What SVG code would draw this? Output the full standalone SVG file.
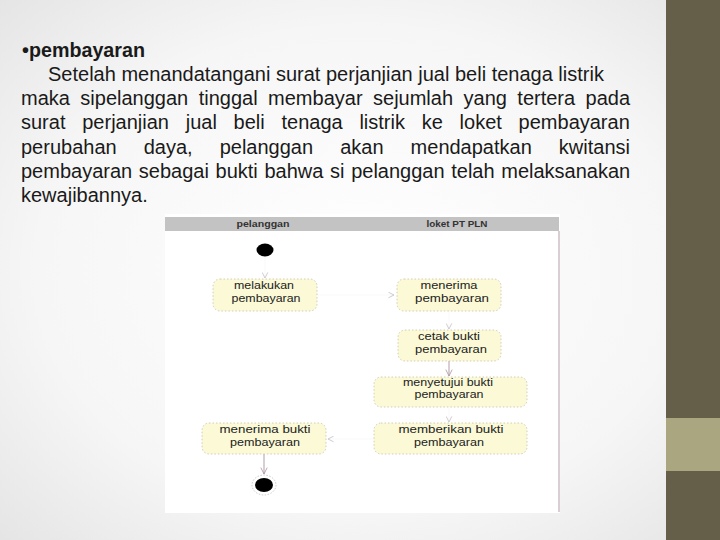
<svg xmlns="http://www.w3.org/2000/svg" width="720" height="540" viewBox="0 0 720 540">
<defs>
<radialGradient id="bg" cx="0.5" cy="0.5" r="0.75">
<stop offset="0" stop-color="#ffffff"/>
<stop offset="0.6" stop-color="#f6f6f6"/>
<stop offset="1" stop-color="#e2e2e2"/>
</radialGradient>
<marker id="ah" viewBox="0 0 10 10" refX="9" refY="5" markerWidth="7" markerHeight="7" orient="auto" markerUnits="userSpaceOnUse">
<path d="M1,1 L9,5 L1,9" fill="none" stroke="#bdb4bb" stroke-width="1"/>
</marker>
<marker id="ahd" viewBox="0 0 10 10" refX="9" refY="5" markerWidth="8" markerHeight="8" orient="auto" markerUnits="userSpaceOnUse">
<path d="M1,1 L9,5 L1,9" fill="none" stroke="#a8929f" stroke-width="1"/>
</marker>
</defs>
<style>
.body{font-family:"Liberation Sans",Arial,sans-serif;font-size:20px;fill:#1a1a1a}
.node rect{fill:#fbf9d6;stroke:#c9c2aa;stroke-width:0.8;stroke-dasharray:1.5 2}
.node text{font-family:"Liberation Sans",Arial,sans-serif;font-size:10px;fill:#222;text-anchor:middle}
.lane{font-family:"Liberation Sans",Arial,sans-serif;font-size:8.5px;font-weight:bold;fill:#333;text-anchor:middle}
.faint{stroke:#f9f8f9;stroke-width:0.8;fill:none}
.solid{stroke:#a8929f;stroke-width:0.9;fill:none}
</style>
<rect x="0" y="0" width="720" height="540" fill="url(#bg)"/>
<rect x="666" y="0" width="54" height="540" fill="#655e48"/>
<rect x="666" y="418" width="54" height="53" fill="#a9a680"/>

<g id="text">
<text class="body" x="22" y="57" font-weight="bold" textLength="123" lengthAdjust="spacingAndGlyphs">•pembayaran</text>
<text class="body" x="48" y="81">Setelah menandatangani surat perjanjian jual beli tenaga listrik</text>
<text class="body" x="21" y="105" style="word-spacing:4.9px">maka sipelanggan tinggal membayar sejumlah yang tertera pada</text>
<text class="body" x="21" y="129" style="word-spacing:11.2px">surat perjanjian jual beli tenaga listrik ke loket pembayaran</text>
<text class="body" x="21" y="154" style="word-spacing:21.5px">perubahan daya, pelanggan akan mendapatkan kwitansi</text>
<text class="body" x="21" y="178" style="word-spacing:1.1px">pembayaran sebagai bukti bahwa si pelanggan telah melaksanakan</text>
<text class="body" x="21" y="202">kewajibannya.</text>
</g>

<g id="diagram-frame">
<rect x="165" y="214" width="395" height="299" fill="#ffffff"/>
<rect x="165" y="217" width="394" height="14" fill="#c3c3c3"/>
<text class="lane" x="263" y="227" textLength="53" lengthAdjust="spacingAndGlyphs">pelanggan</text>
<text class="lane" x="457" y="227" textLength="61" lengthAdjust="spacingAndGlyphs">loket PT PLN</text>
<line x1="559" y1="231" x2="559" y2="512" stroke="#b59dab" stroke-width="1"/>
</g>

<g id="connectors">
<path class="faint" d="M265,257 L265,278" marker-end="url(#ah)"/>
<path class="faint" d="M317,295 L394,295" marker-end="url(#ah)"/>
<path class="faint" d="M449,311 L449,329" marker-end="url(#ah)"/>
<path class="solid" d="M449,361 L449,376" marker-end="url(#ahd)"/>
<path class="faint" d="M449,407 L449,422" marker-end="url(#ah)"/>
<path class="faint" d="M374,439 L328,439" marker-end="url(#ah)"/>
<path class="solid" d="M264,454 L264,474" marker-end="url(#ahd)"/>
</g>

<g id="start"><ellipse cx="265" cy="250" rx="8.5" ry="6.5" fill="#000"/></g>

<g id="melakukan" class="node">
<rect x="213" y="279" width="104" height="32" rx="7"/>
<text x="264" y="289" textLength="60" lengthAdjust="spacingAndGlyphs">melakukan</text>
<text x="266" y="302" textLength="69" lengthAdjust="spacingAndGlyphs">pembayaran</text>
</g>
<g id="menerima" class="node">
<rect x="397" y="279" width="104" height="32" rx="7"/>
<text x="449" y="289" textLength="57" lengthAdjust="spacingAndGlyphs">menerima</text>
<text x="452" y="302" textLength="74" lengthAdjust="spacingAndGlyphs">pembayaran</text>
</g>
<g id="cetak" class="node">
<rect x="398" y="330" width="103" height="31" rx="7"/>
<text x="449" y="340" textLength="62" lengthAdjust="spacingAndGlyphs">cetak bukti</text>
<text x="451" y="353" textLength="72" lengthAdjust="spacingAndGlyphs">pembayaran</text>
</g>
<g id="menyetujui" class="node">
<rect x="374" y="377" width="153" height="30" rx="7"/>
<text x="448" y="386" textLength="90" lengthAdjust="spacingAndGlyphs">menyetujui bukti</text>
<text x="449" y="398" textLength="69" lengthAdjust="spacingAndGlyphs">pembayaran</text>
</g>
<g id="memberikan" class="node">
<rect x="374" y="423" width="153" height="31" rx="7"/>
<text x="451" y="433" textLength="105" lengthAdjust="spacingAndGlyphs">memberikan bukti</text>
<text x="449" y="446" textLength="70" lengthAdjust="spacingAndGlyphs">pembayaran</text>
</g>
<g id="menerima-bukti" class="node">
<rect x="202" y="423" width="124" height="31" rx="7"/>
<text x="265" y="433" textLength="91" lengthAdjust="spacingAndGlyphs">menerima bukti</text>
<text x="265" y="446" textLength="70" lengthAdjust="spacingAndGlyphs">pembayaran</text>
</g>

<g id="end">
<ellipse cx="264" cy="485" rx="12" ry="10" fill="none" stroke="#bdbdbd" stroke-width="0.8" stroke-dasharray="1.5 1.5"/>
<ellipse cx="264" cy="485" rx="9" ry="7" fill="#000"/>
</g>
</svg>
